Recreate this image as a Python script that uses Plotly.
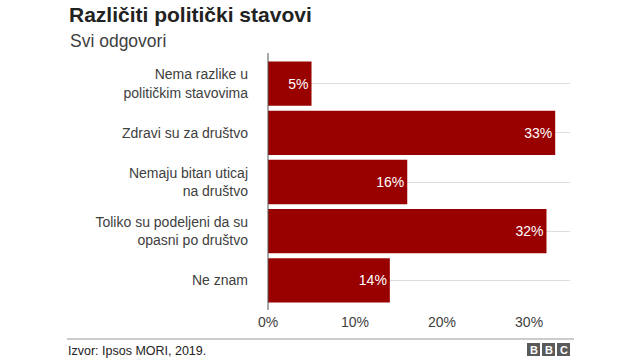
import plotly.graph_objects as go

categories = [
    "Nema razlike u<br>političkim stavovima",
    "Zdravi su za društvo",
    "Nemaju bitan uticaj<br>na društvo",
    "Toliko su podeljeni da su<br>opasni po društvo",
    "Ne znam",
]
values = [5, 33, 16, 32, 14]
value_labels = [f"{v}%" for v in values]
tick_vals = [0, 10, 20, 30]
tick_text = ["0%", "10%", "20%", "30%"]

W, H = 640, 360
ML, MR, MT, MB = 268, 70, 59, 55
PW, PH = W - ML - MR, H - MT - MB

def px(x):
    return (x - ML) / PW

def py(y):
    return (H - MB - y) / PH

FONT = "Liberation Sans, Arial, Helvetica, sans-serif"

fig = go.Figure(go.Bar(
    x=values, y=categories, orientation="h",
    marker=dict(color="#990000", line=dict(width=0)),
    text=value_labels, textposition="inside", insidetextanchor="end",
    textfont=dict(color="white", size=14, family=FONT),
    width=0.9, cliponaxis=False,
))

fig.update_layout(
    width=W, height=H,
    margin=dict(l=ML, r=MR, t=MT, b=MB),
    paper_bgcolor="white", plot_bgcolor="white",
    showlegend=False,
    font=dict(family=FONT, color="#404040", size=14),
    xaxis=dict(range=[0, 34.7], tickvals=tick_vals, ticktext=tick_text,
               showgrid=False, zeroline=False, showline=False,
               tickfont=dict(size=14, color="#404040"), ticks="", ticklabelstandoff=7),
    yaxis=dict(categoryorder="array", categoryarray=categories[::-1],
               showgrid=True, gridcolor="#dddddd", gridwidth=1,
               showline=False, zeroline=False, ticks="",
               tickfont=dict(size=14, color="#404040"), ticklabelstandoff=19),
    uniformtext=dict(mode=False),
)

shapes = [
    dict(type="line", xref="paper", yref="paper", x0=px(268), x1=px(268),
         y0=py(53), y1=py(310), line=dict(color="#555555", width=1), layer="above"),
    dict(type="line", xref="paper", yref="paper", x0=px(67), x1=px(574),
         y0=py(339), y1=py(339), line=dict(color="#999999", width=1)),
]
annotations = [
    dict(text="<b>Različiti politički stavovi</b>", xref="paper", yref="paper",
         x=px(67), y=py(14), xanchor="left", yanchor="middle", showarrow=False,
         font=dict(size=21, color="#222222", family=FONT)),
    dict(text="Svi odgovori", xref="paper", yref="paper",
         x=px(68), y=py(41), xanchor="left", yanchor="middle", showarrow=False,
         font=dict(size=17.5, color="#404040", family=FONT)),
    dict(text="Izvor: Ipsos MORI, 2019.", xref="paper", yref="paper",
         x=px(66), y=py(351), xanchor="left", yanchor="middle", showarrow=False,
         font=dict(size=12.5, color="#222222", family=FONT)),
]
for i, letter in enumerate("BBC"):
    x0 = 527 + i * 15
    shapes.append(dict(type="rect", xref="paper", yref="paper",
                       x0=px(x0), x1=px(x0 + 13), y0=py(343), y1=py(356),
                       fillcolor="#5a5a5a", line=dict(width=0)))
    annotations.append(dict(text=f"<b>{letter}</b>", xref="paper", yref="paper",
                            x=px(x0 + 6.5), y=py(349.5), xanchor="center", yanchor="middle",
                            showarrow=False, font=dict(size=11, color="white", family=FONT)))

fig.update_layout(shapes=shapes, annotations=annotations)
fig.write_html("out.html", config={"displayModeBar": False},
               post_script="document.body.style.margin='0';")
